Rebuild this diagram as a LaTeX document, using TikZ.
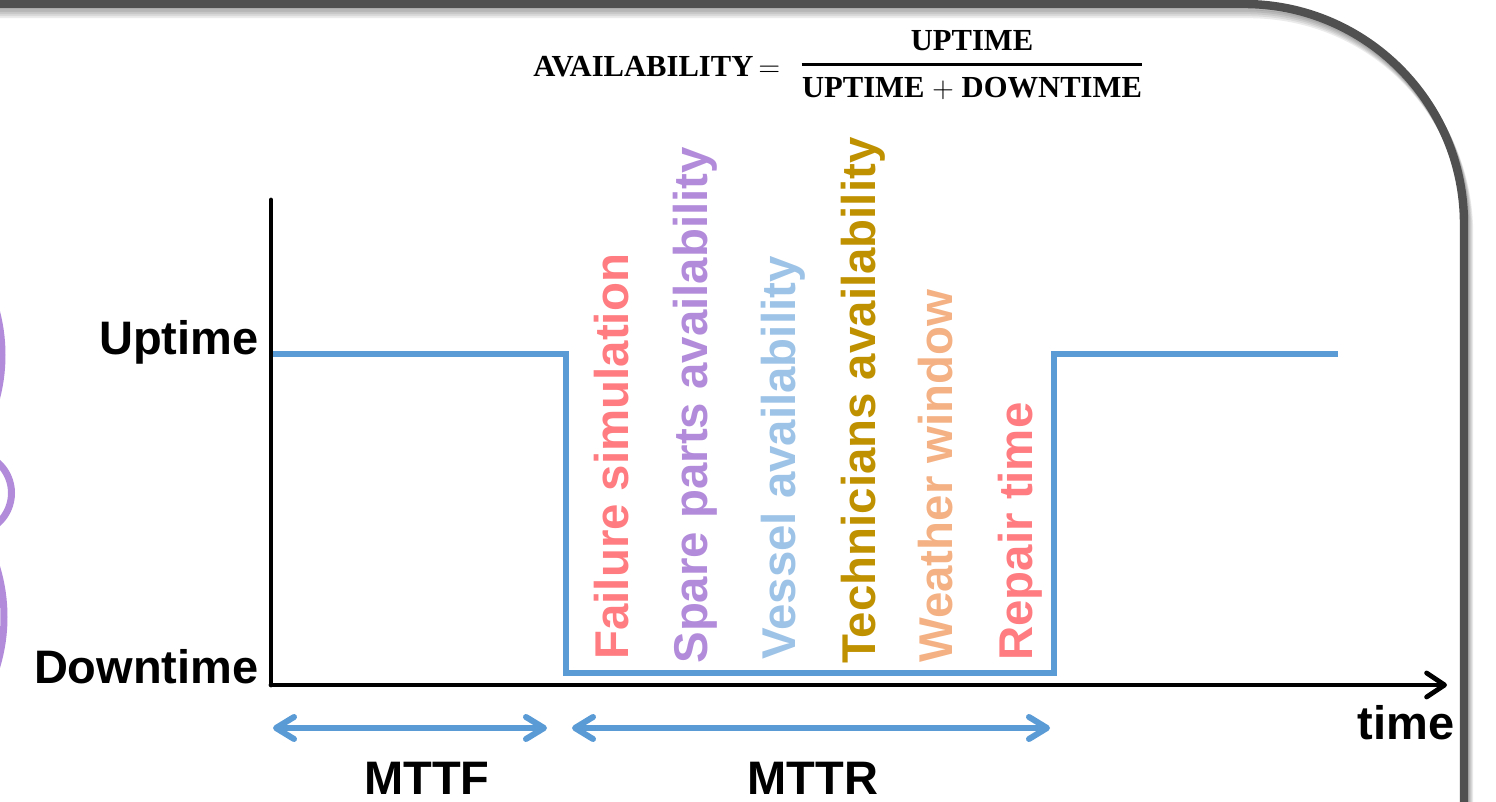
\documentclass[tikz,border=0pt]{standalone}
\usepackage{fontspec}
\setmainfont{Liberation Serif}
\setsansfont{Liberation Sans}
\usepackage{xcolor}
\usepackage{tikz}
\usetikzlibrary{arrows.meta, positioning}
\definecolor{signalblue}{RGB}{91,155,213}
\definecolor{failred}{RGB}{255,124,128}
\definecolor{sparepurple}{RGB}{178,140,218}
\definecolor{vesselblue}{RGB}{157,195,230}
\definecolor{techgold}{RGB}{191,144,0}
\definecolor{weatherorange}{RGB}{244,177,131}
\definecolor{framegray}{RGB}{80,80,80}

\begin{document}
\begin{tikzpicture}[
    x=0.5pt, y=-0.5pt,
    axisline/.style={line width=2.4pt, black, line cap=round},
    signal/.style={line width=3pt, signalblue},
    span/.style={line width=3pt, signalblue, {Straight Barb[length=9pt, width=11pt, round]}-{Straight Barb[length=9pt, width=11pt, round]}},
    level/.style={font=\fontsize{23.5}{28}\sffamily\bfseries, inner sep=0pt},
    factor/.style={font=\fontsize{23.7}{28}\sffamily\bfseries, inner sep=0pt, rotate=90, anchor=base west},
    formula/.style={font=\fontsize{15.3}{18}\selectfont\bfseries, inner sep=0pt},
    framebox/.style={line width=4.2pt, framegray, rounded corners=110pt},
  ]
  \useasboundingbox (0,0) rectangle (1496,802);
  \clip (0,0) rectangle (1496,802);
  % frame with soft shadow
  \foreach \o in {10,8,6,4,2}
    \draw[framebox, draw=black, opacity=0.08, shift={(\o*0.5,\o)}] (-20,4) -- (1464,4) -- (1464,830);
  \draw[framebox] (-20,4) -- (1464,4) -- (1464,830);
  % parts of circles cut by the left edge
  \foreach \cy/\cx/\r in {355/-170/172, 493/-29/40.5, 617/-168/172}
    \draw[sparepurple, line width=3.5pt] (\cx,\cy) circle[radius=\r];
  % availability formula
  \node[formula, anchor=base west] (avail) at (533,77) {AVAILABILITY\,$=$};
  \node[formula, anchor=base] (num) at (972,51) {UPTIME};
  \node[formula, anchor=base] (den) at (972,98) {UPTIME $+$ DOWNTIME};
  \path (den.north west) ++(0,-13) coordinate (barl) (den.north east) ++(0,-13) coordinate (barr);
  \draw[line width=1.8pt] (barl) -- (barr);
  % axes
  \coordinate (origin) at (271,685);
  \coordinate (ytop) at (271,200);
  \coordinate (xend) at (1447,685);
  \draw[axisline] (ytop) -- (origin);
  \draw[axisline, -{Straight Barb[length=9pt, width=12pt, round]}] (origin) -- (xend);
  \node[level, anchor=base east] (up) at (259,355) {Uptime};
  \node[level, anchor=base east] (down) at (259,683) {Downtime};
  \node[level, anchor=base east] (time) at (1455,739) {time};
  % up / down signal
  \coordinate (s0) at (273,354);
  \coordinate (s1) at (566,354);
  \coordinate (s2) at (566,673);
  \coordinate (s3) at (1054,673);
  \coordinate (s4) at (1054,354);
  \coordinate (s5) at (1338,354);
  \draw[signal] (s0) -- (s1) -- (s2) -- (s3) -- (s4) -- (s5);
  % repair factors
  \foreach \name/\x/\y/\col/\txt in {fail/628/660/failred/Failure simulation,
      spare/707/664/sparepurple/Spare parts availability,
      vessel/795/660/vesselblue/Vessel availability,
      tech/875/664/techgold/Technicians availability,
      weather/952/663/weatherorange/Weather window,
      repair/1032/661/failred/Repair time}
    \node[factor, text=\col] (\name) at (\x,\y) {\txt};
  % MTTF / MTTR spans
  \coordinate (ttfL) at (273,728);
  \coordinate (ttfR) at (547,728);
  \coordinate (ttrL) at (572,728);
  \coordinate (ttrR) at (1050,728);
  \draw[span] (ttfL) -- (ttfR);
  \draw[span] (ttrL) -- (ttrR);
  \node[level, anchor=base] (mttf) at (427,794) {MTTF};
  \node[level, anchor=base] (mttr) at (813,794) {MTTR};
\end{tikzpicture}
\end{document}
